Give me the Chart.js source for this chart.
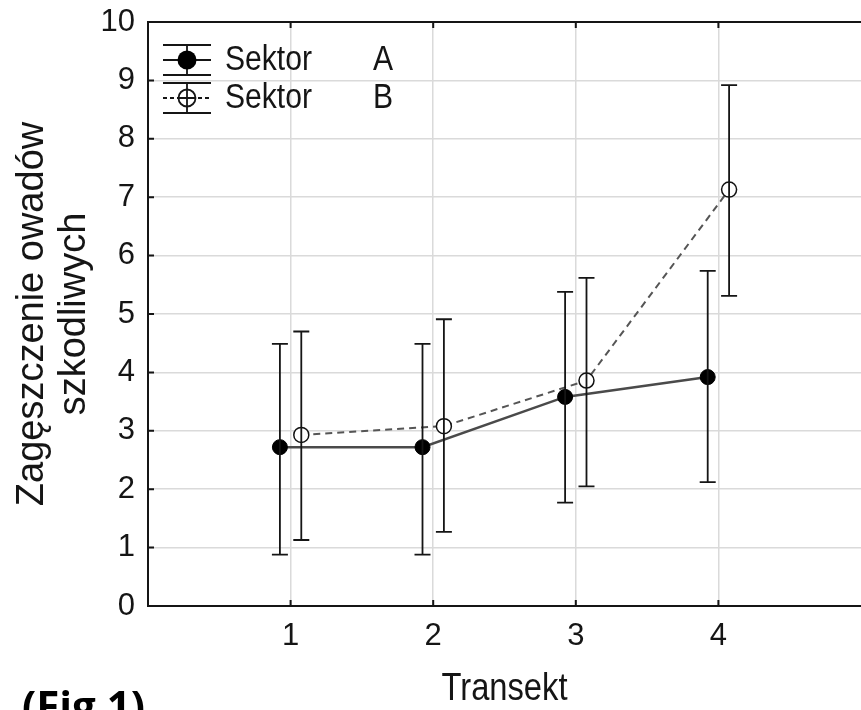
<!DOCTYPE html>
<html lang="pl">
<head>
<meta charset="UTF-8">
<title>Zagęszczenie owadów szkodliwych</title>
<style>
  html, body { margin: 0; padding: 0; background: #fff; overflow: hidden; }
  #wrap { position: relative; width: 861px; height: 710px; }
</style>
</head>
<body>
<div id="wrap"><canvas id="chart" width="861" height="710"></canvas></div>
<script src="https://cdn.jsdelivr.net/npm/chart.js@4.4.1/dist/chart.umd.min.js"></script>
<script>
const FONT_REG = "'Liberation Sans', Arial, sans-serif";

// data
const transects = [1, 2, 3, 4];
const xTickLabels = ['1', '2', '3', '4'];
const yTickValues = [0, 1, 2, 3, 4, 5, 6, 7, 8, 9, 10];
const seriesNames = ['Sektor', 'Sektor'];
const seriesTags = ['A', 'B'];

const sektorA = [2.72, 2.72, 3.58, 3.92];
const sektorALow = [0.88, 0.88, 1.77, 2.12];
const sektorAHigh = [4.49, 4.49, 5.38, 5.74];

const sektorB = [2.93, 3.08, 3.86, 7.13];
const sektorBLow = [1.13, 1.27, 2.05, 5.31];
const sektorBHigh = [4.70, 4.91, 5.62, 8.92];

const dodge = 0.075; // the two sectors sit slightly left / right of each transect

const gridColor = '#dadada';
const inkColor = '#151515';

// narrow-looking text (the original uses a condensed Arial)
function narrowText(ctx, text, x, y, size, align) {
    ctx.save();
    ctx.translate(x, y);
    ctx.scale(0.86, 1);
    ctx.font = size + 'px ' + FONT_REG;
    ctx.textAlign = align;
    ctx.textBaseline = 'middle';
    ctx.fillText(text, 0, 0);
    ctx.restore();
}

const errorBars = {
    id: 'errorBars',
    afterDatasetsDraw(chart) {
        const { ctx, scales: { y } } = chart;
        ctx.save();
        ctx.strokeStyle = inkColor;
        ctx.lineWidth = 1.8;
        chart.data.datasets.forEach((ds, di) => {
            const meta = chart.getDatasetMeta(di);
            meta.data.forEach((pt, i) => {
                const yl = y.getPixelForValue(ds.low[i]);
                const yh = y.getPixelForValue(ds.high[i]);
                ctx.beginPath();
                ctx.moveTo(pt.x, yh); ctx.lineTo(pt.x, yl);
                ctx.moveTo(pt.x - 8, yh); ctx.lineTo(pt.x + 8, yh);
                ctx.moveTo(pt.x - 8, yl); ctx.lineTo(pt.x + 8, yl);
                ctx.stroke();
            });
        });
        ctx.restore();
    }
};

const frame = {
    id: 'frame',
    afterDraw(chart) {
        const { ctx, chartArea: a, scales: { x, y } } = chart;
        ctx.save();
        ctx.strokeStyle = inkColor;
        ctx.lineWidth = 2;
        ctx.beginPath();
        ctx.moveTo(a.left, a.top); ctx.lineTo(a.right, a.top);
        yTickValues.forEach(v => {
            const py = y.getPixelForValue(v);
            ctx.moveTo(a.left, py); ctx.lineTo(a.left + 6, py);
        });
        transects.forEach(t => {
            const px = x.getPixelForValue(t);
            ctx.moveTo(px, a.bottom); ctx.lineTo(px, a.bottom - 6);
            ctx.moveTo(px, a.top); ctx.lineTo(px, a.top + 6);
        });
        ctx.stroke();

        // x axis title
        ctx.fillStyle = inkColor;
        narrowText(ctx, 'Transekt', (a.left + a.right) / 2, 690, 38, 'center');

        // legend
        const lx = a.left + 39;
        const rows = [a.top + 38, a.top + 76];
        rows.forEach((ry, i) => {
            ctx.lineWidth = 1.8;
            ctx.strokeStyle = inkColor;
            ctx.setLineDash([]);
            ctx.beginPath();
            ctx.moveTo(lx - 24, ry - 15); ctx.lineTo(lx + 24, ry - 15);
            ctx.moveTo(lx - 24, ry + 15); ctx.lineTo(lx + 24, ry + 15);
            ctx.moveTo(lx, ry - 15); ctx.lineTo(lx, ry + 15);
            ctx.stroke();
            ctx.beginPath();
            if (i === 1) ctx.setLineDash([4, 3]);
            ctx.moveTo(lx - 24, ry); ctx.lineTo(lx + 24, ry);
            ctx.stroke();
            ctx.setLineDash([]);
            ctx.beginPath();
            if (i === 0) {
                ctx.arc(lx, ry, 9.5, 0, Math.PI * 2);
                ctx.fillStyle = '#000';
                ctx.fill();
            } else {
                ctx.arc(lx, ry, 8.5, 0, Math.PI * 2);
                ctx.fillStyle = '#fff';
                ctx.fill();
                ctx.stroke();
                ctx.beginPath();
                ctx.moveTo(lx, ry - 8.5); ctx.lineTo(lx, ry + 8.5);
                ctx.moveTo(lx - 8.5, ry); ctx.lineTo(lx + 8.5, ry);
                ctx.stroke();
            }
            ctx.fillStyle = inkColor;
            narrowText(ctx, seriesNames[i], lx + 38, ry, 35, 'left');
            narrowText(ctx, seriesTags[i], lx + 196, ry, 35, 'center');
        });

        ctx.fillStyle = '#000';
        ctx.font = "bold 42px 'Open Sans', sans-serif";
        ctx.textAlign = 'left';
        ctx.textBaseline = 'alphabetic';
        ctx.fillText('(Fig 1)', 22, 721);
        ctx.restore();
    }
};

const ctx = document.getElementById('chart').getContext('2d');
new Chart(ctx, {
    type: 'line',
    data: {
        datasets: [
            {
                label: 'Sektor A',
                data: transects.map((t, i) => ({ x: t - dodge, y: sektorA[i] })),
                low: sektorALow,
                high: sektorAHigh,
                borderColor: '#4a4a4a',
                borderWidth: 2.5,
                pointRadius: 7.5,
                pointBackgroundColor: '#000',
                pointBorderColor: '#000',
                pointBorderWidth: 1
            },
            {
                label: 'Sektor B',
                data: transects.map((t, i) => ({ x: t + dodge, y: sektorB[i] })),
                low: sektorBLow,
                high: sektorBHigh,
                borderColor: '#555',
                borderWidth: 2,
                borderDash: [7, 5],
                pointRadius: 7.5,
                pointBackgroundColor: '#fff',
                pointBorderColor: '#111',
                pointBorderWidth: 1.5
            }
        ]
    },
    options: {
        responsive: false,
        animation: false,
        devicePixelRatio: 1,
        layout: { autoPadding: false, padding: { top: 22, left: 0, right: 0, bottom: 0 } },
        plugins: { legend: { display: false }, tooltip: { enabled: false } },
        scales: {
            x: {
                type: 'linear',
                min: 0,
                max: 5,
                afterFit(s) { s.height = 104; s.paddingLeft = 0; s.paddingRight = 0; },
                afterBuildTicks(s) { s.ticks = transects.map(v => ({ value: v })); },
                ticks: {
                    callback: v => xTickLabels[transects.indexOf(v)] ?? '',
                    font: { family: FONT_REG, size: 31 },
                    color: inkColor,
                    padding: 12,
                    maxRotation: 0,
                    autoSkip: false
                },
                grid: { color: gridColor, lineWidth: 1.5, drawTicks: false },
                border: { color: inkColor, width: 2 }
            },
            y: {
                min: 0,
                max: 10,
                afterFit(s) { s.width = 148; s.paddingTop = 0; s.paddingBottom = 0; },
                afterBuildTicks(s) { s.ticks = yTickValues.map(v => ({ value: v })); },
                ticks: {
                    font: { family: FONT_REG, size: 31 },
                    color: inkColor,
                    padding: 13
                },
                grid: {
                    color: c => (c.tick && (c.tick.value === 0 || c.tick.value === 10)) ? 'rgba(0,0,0,0)' : gridColor,
                    lineWidth: 1.5,
                    drawTicks: false
                },
                border: { color: inkColor, width: 2 },
                title: {
                    display: true,
                    text: ['Zagęszczenie owadów', 'szkodliwych'],
                    color: inkColor,
                    font: { family: FONT_REG, size: 38, lineHeight: 1.1 },
                    padding: { top: 12, bottom: 0 }
                }
            }
        }
    },
    plugins: [errorBars, frame]
});
</script>
</body>
</html>
